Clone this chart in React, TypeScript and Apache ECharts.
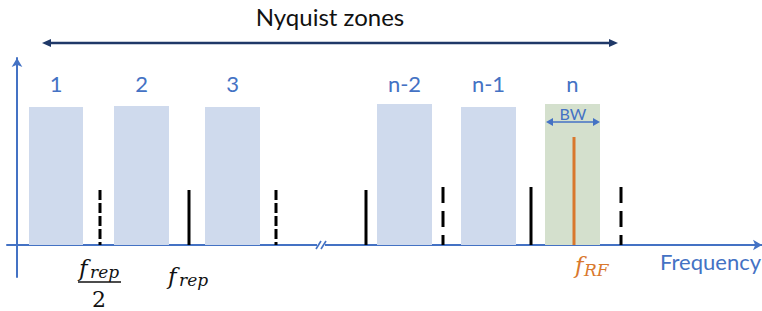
import React, { useEffect, useRef } from 'react';
import * as echarts from 'echarts';

// ---- data (x: frequency in diagram units, y: amplitude in diagram units) ----
const zoneLabels = ['1', '2', '3', 'n-2', 'n-1', 'n'];
const zoneStarts = [12, 97, 188, 360, 444, 528];
const zoneEnds = [66, 152, 243, 415, 499, 583];
const zoneTops = [138, 139, 138, 141, 138, 141];
const highlightedZone = 'n';
const zoneLabelLevel = 162;

const markerPositions = [83, 172, 259, 349, 426, 514, 604];
const markerHeights = [55, 55, 55, 55, 58, 58, 58];
const markerDashed = [true, false, true, false, true, false, true];

const rfPosition = 557;
const rfHeight = 108;

const bwRange = [529, 583];
const bwLevel = 123;
const bwLabelLevel = 132;

const nyquistRange = [25, 601];
const nyquistLevel = 202;

const breakPosition = 305;

const mathLabelPositions = [83, 172, 557];
const mathLabelKinds = ['half', 'rep', 'rf'];

const BLUE = '#4472C4';
const ZONE_BLUE = '#CFDAED';
const ZONE_GREEN = '#D4E0CD';
const ORANGE = '#D9782D';
const NAVY = '#1F3868';
const UI_FONT = 'Lato, "Open Sans", sans-serif';
const MATH_FONT = '"DejaVu Serif", "Liberation Serif", serif';

export default function App() {
  const ref = useRef<HTMLDivElement>(null);
  useEffect(() => {
    if (!ref.current) return;
    const chart = echarts.init(ref.current, undefined, { renderer: 'svg' });

    const mathText = (x: number, y: number, main: string, mainSize: number, sx: number, sy: number, sub: string, subSize: number, color: string) => [
      {
        type: 'text', x, y,
        style: { text: main, font: `italic ${mainSize}px ${MATH_FONT}`, fill: color, align: 'left', verticalAlign: 'middle' },
      },
      {
        type: 'text', x: sx, y: sy,
        style: { text: sub, font: `italic ${subSize}px ${MATH_FONT}`, fill: color, align: 'left', verticalAlign: 'middle' },
      },
    ];

    const option: any = {
      animation: false,
      grid: { left: 7, right: 0, top: 58, bottom: 34, containLabel: false },
      xAxis: {
        type: 'value', min: -10, max: 745,
        axisLine: { onZero: true, symbol: ['none', 'arrow'], symbolSize: [8, 9], lineStyle: { color: BLUE, width: 2 } },
        axisTick: { show: false }, axisLabel: { show: false }, splitLine: { show: false },
      },
      yAxis: {
        type: 'value', min: -32, max: 187,
        axisLine: { show: true, onZero: true, symbol: ['none', 'arrow'], symbolSize: [8, 9], lineStyle: { color: BLUE, width: 2 } },
        axisTick: { show: false }, axisLabel: { show: false }, splitLine: { show: false },
      },
      graphic: [
        {
          type: 'text', x: 330, y: 16,
          style: { text: 'Nyquist zones', font: `24px ${UI_FONT}`, fill: '#111', align: 'center', verticalAlign: 'middle' },
        },
        {
          type: 'text', right: 1, top: 250,
          style: { text: 'Frequency', font: `22px ${UI_FONT}`, fill: BLUE },
        },
      ],
      series: [
        {
          type: 'custom', name: 'zones', clip: false, z: 1,
          data: zoneStarts.map((s, i) => [s, zoneEnds[i], zoneTops[i], i]),
          renderItem: (params: any, api: any) => {
            const i = api.value(3);
            const p0 = api.coord([api.value(0), api.value(2)]);
            const p1 = api.coord([api.value(1), 0]);
            const lp = api.coord([(api.value(0) + api.value(1)) / 2, zoneLabelLevel]);
            const hl = zoneLabels[i] === highlightedZone;
            return {
              type: 'group',
              children: [
                { type: 'rect', shape: { x: p0[0], y: p0[1], width: p1[0] - p0[0], height: p1[1] - p0[1] }, style: { fill: hl ? ZONE_GREEN : ZONE_BLUE } },
                { type: 'text', x: lp[0], y: lp[1], style: { text: zoneLabels[i], font: `22px ${UI_FONT}`, fill: BLUE, align: 'center', verticalAlign: 'middle' } },
              ],
            };
          },
        },
        {
          type: 'custom', name: 'markers', clip: false, z: 3,
          data: markerPositions.map((x, i) => [x, markerHeights[i], markerDashed[i] ? 1 : 0, i]),
          renderItem: (params: any, api: any) => {
            const a = api.coord([api.value(0), 0]);
            const b = api.coord([api.value(0), api.value(1)]);
            const dashed = api.value(2) === 1;
            const dash = api.value(3) < 4 ? [10, 3] : [16, 8];
            return {
              type: 'line',
              shape: { x1: b[0], y1: b[1], x2: a[0], y2: a[1] },
              style: { stroke: '#000', lineWidth: 3, lineDash: dashed ? dash : null },
            };
          },
        },
        {
          type: 'custom', name: 'rf', clip: false, z: 3,
          data: [[rfPosition, rfHeight]],
          renderItem: (params: any, api: any) => {
            const a = api.coord([api.value(0), 0]);
            const b = api.coord([api.value(0), api.value(1)]);
            return { type: 'line', shape: { x1: a[0], y1: a[1], x2: b[0], y2: b[1] }, style: { stroke: ORANGE, lineWidth: 3 } };
          },
        },
        {
          type: 'custom', name: 'arrows', clip: false, z: 4,
          data: [
            [nyquistRange[0], nyquistRange[1], nyquistLevel, 0],
            [bwRange[0], bwRange[1], bwLevel, 1],
          ],
          renderItem: (params: any, api: any) => {
            const kind = api.value(3);
            const a = api.coord([api.value(0), api.value(2)]);
            const b = api.coord([api.value(1), api.value(2)]);
            const color = kind === 0 ? NAVY : BLUE;
            const hl = kind === 0 ? 9 : 7;
            const hw = 4;
            const children: any[] = [
              { type: 'line', shape: { x1: a[0] + hl - 1, y1: a[1], x2: b[0] - hl + 1, y2: b[1] }, style: { stroke: color, lineWidth: kind === 0 ? 2.5 : 1.5 } },
              { type: 'polygon', shape: { points: [[a[0], a[1]], [a[0] + hl, a[1] - hw], [a[0] + hl, a[1] + hw]] }, style: { fill: color } },
              { type: 'polygon', shape: { points: [[b[0], b[1]], [b[0] - hl, b[1] - hw], [b[0] - hl, b[1] + hw]] }, style: { fill: color } },
            ];
            if (kind === 1) {
              const t = api.coord([(api.value(0) + api.value(1)) / 2, bwLabelLevel]);
              children.push({ type: 'text', x: t[0], y: t[1], style: { text: 'BW', font: `16px ${UI_FONT}`, fill: BLUE, align: 'center', verticalAlign: 'middle' } });
            }
            return { type: 'group', children };
          },
        },
        {
          type: 'custom', name: 'break', clip: false, z: 5,
          data: [[breakPosition]],
          renderItem: (params: any, api: any) => {
            const c = api.coord([api.value(0), 0]);
            return {
              type: 'group',
              children: [
                { type: 'line', shape: { x1: c[0] - 5, y1: c[1], x2: c[0] + 3, y2: c[1] }, style: { stroke: '#fff', lineWidth: 3 } },
                { type: 'line', shape: { x1: c[0] - 6, y1: c[1] + 4, x2: c[0] - 1, y2: c[1] - 4 }, style: { stroke: BLUE, lineWidth: 1.6 } },
                { type: 'line', shape: { x1: c[0] - 1, y1: c[1] + 4, x2: c[0] + 4, y2: c[1] - 4 }, style: { stroke: BLUE, lineWidth: 1.6 } },
              ],
            };
          },
        },
        {
          type: 'custom', name: 'mathLabels', clip: false, z: 5,
          data: mathLabelPositions.map((x, i) => [x, i]),
          renderItem: (params: any, api: any) => {
            const kind = mathLabelKinds[api.value(1)];
            const c = api.coord([api.value(0), 0]);
            if (kind === 'half') {
              return {
                type: 'group',
                children: [
                  ...mathText(c[0] - 21, c[1] + 23, 'f', 23, c[0] - 10, c[1] + 26.5, 'rep', 17, '#111'),
                  { type: 'line', shape: { x1: c[0] - 22, y1: c[1] + 37, x2: c[0] + 21, y2: c[1] + 37 }, style: { stroke: '#111', lineWidth: 1.3 } },
                  { type: 'text', x: c[0] - 1, y: c[1] + 54, style: { text: '2', font: `22px ${MATH_FONT}`, fill: '#111', align: 'center', verticalAlign: 'middle' } },
                ],
              };
            }
            if (kind === 'rep') {
              return { type: 'group', children: mathText(c[0] - 21, c[1] + 31, 'f', 23, c[0] - 10, c[1] + 34.5, 'rep', 17, '#111') };
            }
            return { type: 'group', children: mathText(c[0] + 1, c[1] + 20, 'f', 23, c[0] + 10, c[1] + 25, 'RF', 17, ORANGE) };
          },
        },
      ],
    };
    chart.setOption(option);
    return () => chart.dispose();
  }, []);
  return <div ref={ref} style={{ position: 'absolute', left: 0, top: 0, width: 762, height: 311 }} />;
}
